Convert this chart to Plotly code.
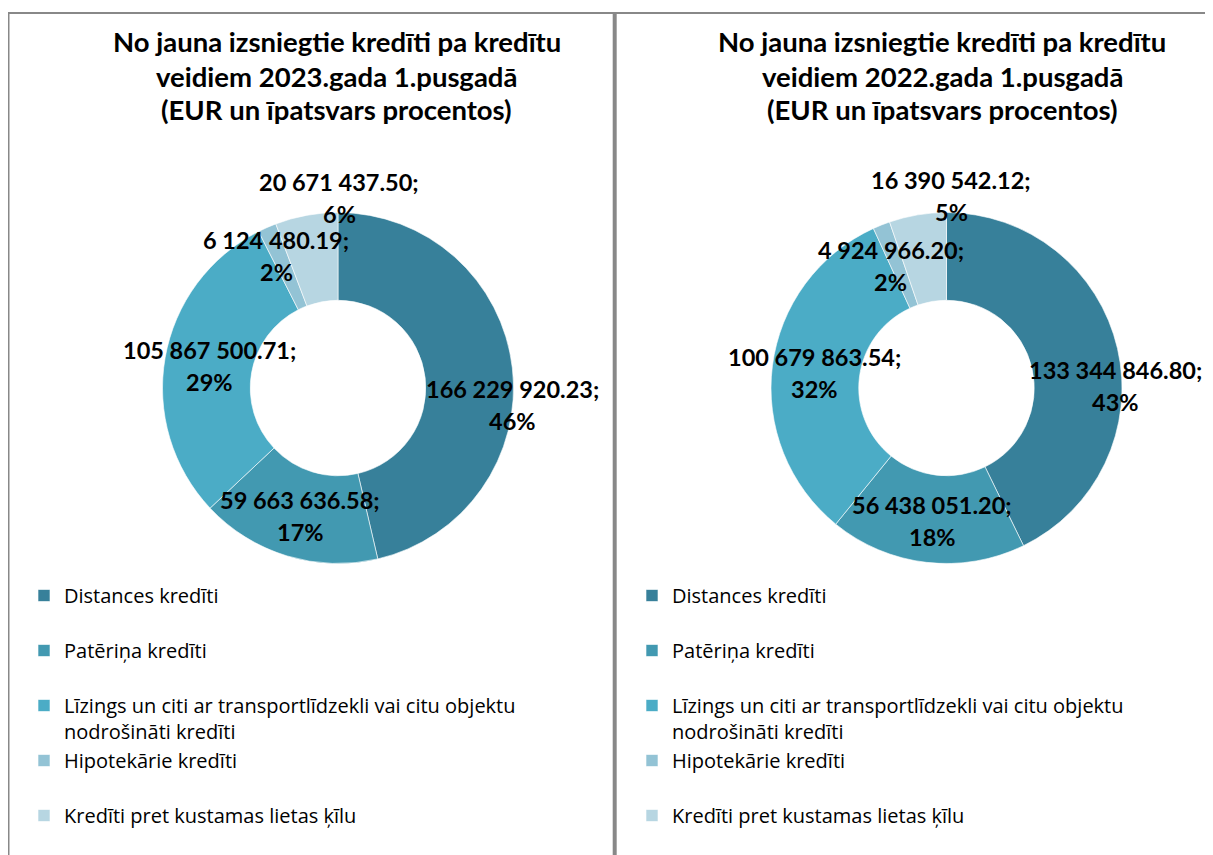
import plotly.graph_objects as go

# ---------------- data ----------------
categories = [
    "Distances kredīti",
    "Patēriņa kredīti",
    "Līzings un citi ar transportlīdzekli vai citu objektu nodrošināti kredīti",
    "Hipotekārie kredīti",
    "Kredīti pret kustamas lietas ķīlu",
]
values_2023 = [166229920.23, 59663636.58, 105867500.71, 6124480.19, 20671437.50]
pct_2023 = [46, 17, 29, 2, 6]
values_2022 = [133344846.80, 56438051.20, 100679863.54, 4924966.20, 16390542.12]
pct_2022 = [43, 18, 32, 2, 5]

title_2023 = ["No jauna izsniegtie kredīti pa kredītu", "veidiem 2023.gada 1.pusgadā",
              "(EUR un īpatsvars procentos)"]
title_2022 = ["No jauna izsniegtie kredīti pa kredītu", "veidiem 2022.gada 1.pusgadā",
              "(EUR un īpatsvars procentos)"]

# ---------------- styling / layout ----------------
colors = ["#37809A", "#4299B1", "#4BACC6", "#93C3D5", "#B7D6E2"]
OFF = 8                      # page body margin of the html page
W, H = 1213 - OFF, 855 - OFF  # figure size
FONT = "Lato, 'Open Sans', sans-serif"
LEG_FONT = "'Open Sans', Lato, sans-serif"

# label centre positions in screen pixels (value line), per slice
label_px_2023 = [(512, 389), (300, 500), (209, 350), (276, 240), (339, 182)]
label_px_2022 = [(1115, 370), (932, 505), (815, 357), (891, 250), (951, 180)]
LINE_GAP = 32


def px(x, y):
    return (x - OFF) / W, 1 - (y - OFF) / H


def fmt(v):
    return f"{v:,.2f}".replace(",", " ")


def legend_label(c, suffix=""):
    # each legend entry occupies two text lines, as in the reference
    if c.startswith("Līzings"):
        return "Līzings un citi ar transportlīdzekli vai citu objektu<br>nodrošināti kredīti" + suffix
    if c.startswith("Kredīti pret"):
        return c + suffix
    return c + "<br> " + suffix


leg_labels_2023 = [legend_label(c) for c in categories]
leg_labels_2022 = [legend_label(c, "\u200b") for c in categories]

fig = go.Figure()


def donut_domain(cx, cy, r):
    x0, y1 = px(cx - r, cy - r)
    x1, y0 = px(cx + r, cy + r)
    return dict(x=[x0, x1], y=[y0, y1])


for labels, vals, dom, leg in [
    (leg_labels_2023, values_2023, donut_domain(338, 388, 175.5), "legend"),
    (leg_labels_2022, values_2022, donut_domain(946.5, 388, 175.5), "legend2"),
]:
    fig.add_trace(go.Pie(
        labels=labels, values=vals, hole=0.5, sort=False, direction="clockwise",
        rotation=0, textinfo="none", hoverinfo="label+value+percent",
        marker=dict(colors=colors, line=dict(color="rgba(255,255,255,0.6)", width=1)),
        domain=dom, legend=leg, showlegend=True,
    ))

annotations = []
label_font = dict(family=FONT, size=23.5, color="#000000", weight="bold")
for vals, pcts, poss in [(values_2023, pct_2023, label_px_2023), (values_2022, pct_2022, label_px_2022)]:
    for v, p, (x, y) in zip(vals, pcts, poss):
        ax, ay = px(x, y)
        annotations.append(dict(text=fmt(v) + ";", x=ax, y=ay, xref="paper", yref="paper",
                                xanchor="center", yanchor="middle", showarrow=False, font=label_font))
        ax, ay = px(x, y + LINE_GAP)
        annotations.append(dict(text=f"{p}%", x=ax, y=ay, xref="paper", yref="paper",
                                xanchor="center", yanchor="middle", showarrow=False, font=label_font))

title_font = dict(family=FONT, size=27.5, color="#000000", weight="bold")
title_ys = [42, 77, 110]
for lines, cx in [(title_2023, 337), (title_2022, 942)]:
    for t, y in zip(lines, title_ys):
        ax, ay = px(cx, y)
        annotations.append(dict(text=t, x=ax, y=ay, xref="paper", yref="paper",
                                xanchor="center", yanchor="middle", showarrow=False, font=title_font))

border = "#888888"
_, yt = px(7, 13)
xm, _ = px(614.7, 13)
shapes = [
    dict(type="line", xref="paper", yref="paper", x0=0, x1=1, y0=yt, y1=yt,
         line=dict(color=border, width=2)),
    dict(type="line", xref="paper", yref="paper", x0=0, x1=0, y0=0, y1=yt,
         line=dict(color=border, width=3)),
    dict(type="line", xref="paper", yref="paper", x0=xm, x1=xm, y0=0, y1=yt,
         line=dict(color=border, width=4)),
]

legend_font = dict(family=LEG_FONT, size=20, color="#000000")
leg_common = dict(font=legend_font, xanchor="left", yanchor="top", valign="top",
                  bgcolor="rgba(0,0,0,0)", borderwidth=0, orientation="v",
                  itemclick=False, itemdoubleclick=False)
lx1, ly = px(24, 576)
lx2, _ = px(632, 576)

fig.update_layout(
    width=W, height=H,
    margin=dict(l=0, r=0, t=0, b=0, autoexpand=False),
    paper_bgcolor="white", plot_bgcolor="white",
    font=dict(family=FONT, color="#000000"),
    annotations=annotations,
    shapes=shapes,
    legend=dict(x=lx1, y=ly, **leg_common),
    legend2=dict(x=lx2, y=ly, **leg_common),
)

fig.write_html("out.html")
